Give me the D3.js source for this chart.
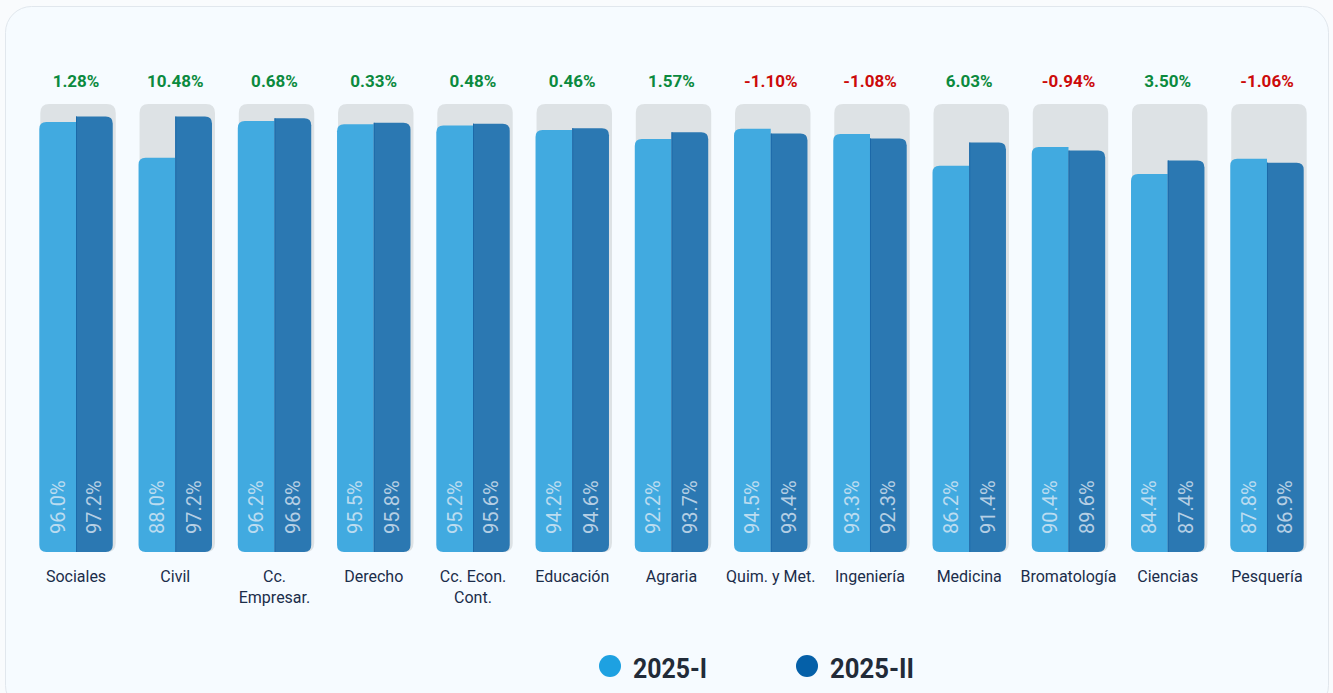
<!DOCTYPE html>
<html>
<head>
<meta charset="utf-8">
<script src="https://cdn.jsdelivr.net/npm/d3@7"></script>
<style>
  html, body { margin: 0; padding: 0; background: #f9fbfd; }
  svg { display: block; }
</style>
</head>
<body>
<script>
// Data
const categories = ["Sociales", "Civil", "Cc. Empresar.", "Derecho", "Cc. Econ. Cont.", "Educación",
  "Agraria", "Quim. y Met.", "Ingeniería", "Medicina", "Bromatología", "Ciencias", "Pesquería"];
const categoryLines = [["Sociales"], ["Civil"], ["Cc.", "Empresar."], ["Derecho"], ["Cc. Econ.", "Cont."],
  ["Educación"], ["Agraria"], ["Quim. y Met."], ["Ingeniería"], ["Medicina"], ["Bromatología"], ["Ciencias"], ["Pesquería"]];
const values2025I = [96.0, 88.0, 96.2, 95.5, 95.2, 94.2, 92.2, 94.5, 93.3, 86.2, 90.4, 84.4, 87.8];
const values2025II = [97.2, 97.2, 96.8, 95.8, 95.6, 94.6, 93.7, 93.4, 92.3, 91.4, 89.6, 87.4, 86.9];
const changes = [1.28, 10.48, 0.68, 0.33, 0.48, 0.46, 1.57, -1.10, -1.08, 6.03, -0.94, 3.50, -1.06];
const seriesNames = ["2025-I", "2025-II"];

const width = 1333;
const height = 693;

const svg = d3.select("body").append("svg")
    .attr("width", width)
    .attr("height", height)
    .attr("viewBox", [0, 0, width, height]);

// card
svg.append("rect")
    .attr("x", 5.5).attr("y", 6.5)
    .attr("width", 1323).attr("height", 705)
    .attr("rx", 26)
    .attr("fill", "#f6fbff")
    .attr("stroke", "#e1e7ed");

const x = d3.scaleBand(categories, [26.4, 1316.6]).paddingInner(0.26).paddingOuter(0.13);
const sub = d3.scaleBand(seriesNames, [0, x.bandwidth()]);
const y = d3.scaleLinear([0, 100], [552, 104]);

// rect path with individual corner radii: [tl, tr, br, bl]
function roundRect(x0, y0, w, h, [tl, tr, br, bl]) {
  const p = d3.path();
  p.moveTo(x0 + tl, y0);
  p.lineTo(x0 + w - tr, y0);
  p.quadraticCurveTo(x0 + w, y0, x0 + w, y0 + tr);
  p.lineTo(x0 + w, y0 + h - br);
  p.quadraticCurveTo(x0 + w, y0 + h, x0 + w - br, y0 + h);
  p.lineTo(x0 + bl, y0 + h);
  p.quadraticCurveTo(x0, y0 + h, x0, y0 + h - bl);
  p.lineTo(x0, y0 + tl);
  p.quadraticCurveTo(x0, y0, x0 + tl, y0);
  p.closePath();
  return p.toString();
}

const data = categories.map((c, i) => ({ c, i, a: values2025I[i], b: values2025II[i], ch: changes[i] }));

const g = svg.append("g")
  .selectAll("g")
  .data(data)
  .join("g")
    .attr("transform", d => `translate(${x(d.c)},0)`);

// gray track
g.append("path")
    .attr("fill", "#dde2e5")
    .attr("d", () => roundRect(1, y(100), x.bandwidth() + 2, y(0) - y(100), [9, 9, 9, 9]));

const r = 7;
g.append("path")
    .attr("fill", "#41aae0")
    .attr("d", d => roundRect(0, y(d.a), sub.bandwidth(), y(0) - y(d.a), [r, 0, 0, r]));

g.append("path")
    .attr("fill", "#2b78b2")
    .attr("d", d => roundRect(sub("2025-II"), y(d.b), sub.bandwidth(), y(0) - y(d.b), [0, r, r, 0]));

g.append("line")
    .attr("x1", sub("2025-II") + 0.5).attr("x2", sub("2025-II") + 0.5)
    .attr("y1", d => y(d.b)).attr("y2", y(0))
    .attr("stroke", "#1c69a8")
    .attr("stroke-width", 1);

// values inside bars (rotated)
[["a", "2025-I"], ["b", "2025-II"]].forEach(([k, s]) => {
  g.append("text")
      .attr("transform", `translate(${sub(s) + sub.bandwidth() / 2 + 7},534) rotate(-90)`)
      .attr("font-family", "'Liberation Sans Narrow', 'Roboto', sans-serif")
      .attr("font-size", 20)
      .attr("fill", "rgba(228,237,246,0.75)")
      .text(d => d[k].toFixed(1) + "%");
});

// change labels
g.append("text")
    .attr("x", x.bandwidth() / 2)
    .attr("y", 87)
    .attr("text-anchor", "middle")
    .attr("font-family", "Roboto, sans-serif")
    .attr("font-weight", "bold")
    .attr("font-size", 17)
    .attr("fill", d => d.ch >= 0 ? "#0b8a3e" : "#cc0a0a")
    .text(d => d.ch.toFixed(2) + "%");

// category labels
g.append("text")
    .attr("text-anchor", "middle")
    .attr("font-family", "Roboto, sans-serif")
    .attr("font-size", 16)
    .attr("fill", "#1b2d4a")
    .selectAll("tspan")
    .data(d => categoryLines[d.i])
    .join("tspan")
      .attr("x", x.bandwidth() / 2)
      .attr("y", (d, j) => 582 + j * 21)
      .text(d => d);

// legend
const legendColors = ["#1ea1e1", "#0560a8"];
const legendX = [610, 807];
const legendTextLen = [74, 84];
const legend = svg.append("g")
  .selectAll("g")
  .data(seriesNames)
  .join("g")
    .attr("transform", (d, i) => `translate(${legendX[i]},666)`);
legend.append("circle")
    .attr("r", 11)
    .attr("fill", (d, i) => legendColors[i]);
legend.append("text")
    .attr("x", 23)
    .attr("y", 12)
    .attr("font-family", "Roboto, sans-serif")
    .attr("font-weight", "bold")
    .attr("font-size", 28)
    .attr("textLength", (d, i) => legendTextLen[i])
    .attr("lengthAdjust", "spacingAndGlyphs")
    .attr("fill", "#222b38")
    .text(d => d);
</script>
</body>
</html>
